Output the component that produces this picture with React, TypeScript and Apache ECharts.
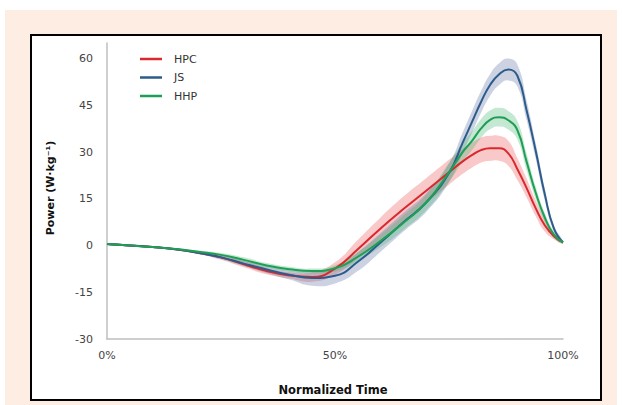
import React, { useEffect, useRef } from "react";
import * as echarts from "echarts";

// Normalized time (%)
const TIME = [0, 5, 10, 15, 20, 25, 30, 35, 40, 45, 50, 55, 60, 65, 70, 75, 78, 80, 82, 84, 86, 88, 90, 92, 94, 96, 98, 100];

// Mean power (W·kg-1)
const HPC_MEAN = [0.5, 0, -0.5, -1.2, -2.3, -3.8, -6, -8.2, -9.6, -10.1, -7.4, -1.2, 5.5, 11.7, 17.6, 23.5, 27, 29, 30.6, 31.2, 31.2, 29.6, 24.5, 18.5, 12, 6.5, 3, 1];
const JS_MEAN = [0.5, 0, -0.5, -1.2, -2.3, -3.8, -5.8, -7.7, -9.4, -10.4, -9.7, -5.2, 1, 7.5, 13.8, 23.3, 33, 39.5, 46, 51.5, 55, 56.5, 54.5, 43.5, 30.5, 16.5, 5.5, 1];
const HHP_MEAN = [0.5, 0, -0.5, -1.1, -2, -3, -4.6, -6.4, -7.6, -8.2, -7.3, -3.6, 1.5, 7.3, 13.8, 23.5, 30, 33.5, 37.5, 40.3, 41.2, 40.2, 37, 27, 17, 9, 3.5, 1];

// Half-width of the shaded band around each mean
const HPC_SD = [0.3, 0.3, 0.3, 0.3, 0.4, 0.8, 1, 1, 1, 1.5, 2, 3, 3.5, 4, 4, 4, 4, 4, 4, 4, 4, 4, 3.5, 3, 2.5, 2, 1, 0.5];
const JS_SD = [0.3, 0.3, 0.3, 0.3, 0.4, 0.6, 0.8, 1.2, 1.5, 2.5, 2.5, 3, 3, 3, 3, 3, 3.3, 3.5, 3.5, 3.5, 3.5, 3.5, 3.5, 3.2, 2.5, 2, 1, 0.5];
const HHP_SD = [0.3, 0.3, 0.3, 0.3, 0.4, 0.6, 0.8, 0.8, 0.8, 0.8, 1, 1.5, 2, 2.3, 2.5, 3, 3, 3, 3, 3, 3, 3, 3, 2.7, 2, 1.5, 1, 0.5];

const Y_TICKS = [-30, -15, 0, 15, 30, 45, 60];
const X_TICK_LABELS = ["0%", "50%", "100%"];

const SERIES = [
  { name: "HPC", mean: HPC_MEAN, sd: HPC_SD, color: "#D9282E", band: "rgba(240,110,110,0.38)" },
  { name: "JS", mean: JS_MEAN, sd: JS_SD, color: "#2C5C8C", band: "rgba(95,115,165,0.32)" },
  { name: "HHP", mean: HHP_MEAN, sd: HHP_SD, color: "#1F9E55", band: "rgba(70,185,115,0.32)" },
];

const FONT = "DejaVu Sans";
const SMOOTH = 0.5;

export default function App() {
  const ref = useRef<HTMLDivElement>(null);

  useEffect(() => {
    if (!ref.current) return;
    const chart = echarts.init(ref.current, null, { renderer: "svg" });

    const bandSeries: any[] = [];
    const lineSeries: any[] = [];
    SERIES.forEach((s) => {
      const upper = TIME.map((t, i) => [t, s.mean[i] + s.sd[i]]);
      const lower = TIME.map((t, i) => [t, s.mean[i] - s.sd[i]]);
      bandSeries.push({
        name: s.name + "-band",
        type: "custom",
        data: [[0, 0]],
        encode: { x: 0, y: 1 },
        silent: true,
        clip: true,
        z: 1,
        renderItem: (_params: any, api: any) => {
          const pts = [
            ...upper.map((p) => api.coord(p)),
            ...lower
              .slice()
              .reverse()
              .map((p) => api.coord(p)),
          ];
          return {
            type: "polygon",
            shape: { points: pts, smooth: SMOOTH },
            style: { fill: s.band },
          };
        },
      });
      lineSeries.push({
        name: s.name,
        type: "line",
        data: TIME.map((t, i) => [t, s.mean[i]]),
        smooth: SMOOTH,
        symbol: "none",
        color: s.color,
        lineStyle: { color: s.color, width: 2 },
        z: 3,
      });
    });

    chart.setOption({
      animation: false,
      graphic: [
        {
          type: "rect",
          shape: { x: 5, y: 10, width: 612, height: 395 },
          style: { fill: "#FDEDE3" },
          z: -10,
          silent: true,
        },
        {
          type: "rect",
          shape: { x: 31, y: 35, width: 570, height: 365 },
          style: { fill: "#FFFFFF", stroke: "#000000", lineWidth: 2 },
          z: -9,
          silent: true,
        },
        {
          type: "text",
          x: 333,
          y: 390,
          style: {
            text: "Normalized Time",
            font: "bold 11.5px " + FONT,
            fill: "#111",
            align: "center",
            verticalAlign: "middle",
          },
        },
        {
          type: "text",
          x: 50,
          y: 188,
          rotation: Math.PI / 2,
          style: {
            text: "Power (W·kg⁻¹)",
            font: "bold 11px " + FONT,
            fill: "#111",
            align: "center",
            verticalAlign: "middle",
          },
        },
      ],
      legend: {
        data: SERIES.map((s) => s.name),
        orient: "vertical",
        left: 135,
        top: 47,
        icon: "rect",
        itemWidth: 22,
        itemHeight: 2.5,
        itemGap: 4.5,
        textStyle: { fontFamily: FONT, fontSize: 11, color: "#333", lineHeight: 14, padding: [0, 0, 0, 7] },
      },
      grid: { left: 107, right: 59, top: 43, bottom: 66 },
      xAxis: {
        type: "value",
        min: 0,
        max: 100,
        interval: 50,
        axisLine: { show: true, onZero: false, lineStyle: { color: "#BFBFBF", width: 1.5 } },
        axisTick: { show: false },
        splitLine: { show: false },
        axisLabel: {
          fontFamily: FONT,
          fontSize: 11,
          color: "#444",
          margin: 11,
          formatter: (v: number) => X_TICK_LABELS[Math.round(v / 50)] ?? "",
        },
      },
      yAxis: {
        type: "value",
        min: Y_TICKS[0],
        max: 65,
        interval: 15,
        axisLine: { show: true, onZero: false, lineStyle: { color: "#BFBFBF", width: 1.5 } },
        axisTick: { show: false },
        splitLine: { show: false },
        axisLabel: {
          fontFamily: FONT,
          fontSize: 11,
          color: "#444",
          margin: 14,
          showMaxLabel: false,
          formatter: (v: number) => (Y_TICKS.includes(v) ? String(v) : ""),
        },
      },
      series: [...bandSeries, ...lineSeries],
    });

    return () => chart.dispose();
  }, []);

  return (
    <div
      ref={ref}
      style={{ position: "fixed", left: 0, top: 0, width: 622, height: 405, background: "#fff" }}
    />
  );
}
